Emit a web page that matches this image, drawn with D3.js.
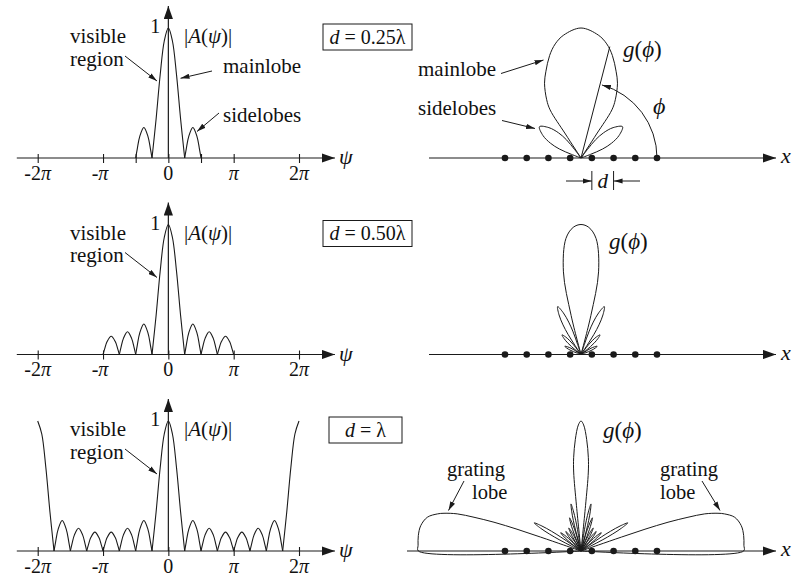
<!DOCTYPE html>
<html>
<head>
<meta charset="utf-8">
<script src="https://cdn.jsdelivr.net/npm/d3@7"></script>
<style>
  html, body { margin: 0; padding: 0; background: #fff; }
  svg text { font-family: "Liberation Serif", "DejaVu Serif", serif; fill: #111; }
</style>
</head>
<body>
<svg id="fig" width="800" height="575" font-family="Liberation Serif, DejaVu Serif, serif"></svg>
<script>
// ---- values ----
const spacingLabels = ['0.25', '0.50', ''];      // d = ...λ (last row is d = λ)
const visibleEdge = [0.5, 1, 2];                  // visible region |ψ| <= kd, units of π
const tickValues = [-2, -1, 0, 1, 2];
const tickLabels = ['-2π', '-π', '0', 'π', '2π'];

// |A(ψ)| lobes, right half (mirrored): [start, end, peak], ψ in units of π
const sideLobes = [
  [[0.25, 0.5, 0.235]],
  [[0.25, 0.5, 0.235], [0.5, 0.75, 0.175], [0.75, 1, 0.14]],
  [[0.25, 0.5, 0.235], [0.5, 0.75, 0.175], [0.75, 1, 0.145], [1, 1.25, 0.145], [1.25, 1.5, 0.175], [1.5, 1.75, 0.235]]
];
const gratingPeaks = [null, null, 2];
const mainHalfWidth = 0.25;
const mainProfile = [[0, 1], [0.25, 0.9], [0.5, 0.64], [0.75, 0.3], [1, 0]];
const sideProfile = [[0, 0], [0.1, 0.31], [0.25, 0.71], [0.5, 1], [0.75, 0.71], [0.9, 0.31], [1, 0]];

// g(φ) polar patterns: [φ degrees, gain]; right half, mirrored about 90°
const polarMain = [
  [[56.5, 0], [57, 0.22], [57.3, 0.44], [59.5, 0.52], [64, 0.64], [68, 0.72], [73, 0.825], [77.3, 0.9], [82, 0.955], [90, 1]],
  [[74.5, 0], [75.8, 0.31], [78, 0.65], [82.6, 0.9], [86.5, 0.98], [90, 1]],
  [[83, 0], [84.3, 0.35], [84.7, 0.61], [85.5, 0.72], [87.1, 0.86], [88.8, 0.97], [90, 1]]
];
// sidelobe petals: [centre φ, peak gain, half width in degrees]
const polarPetals = [
  [[37, 0.40, 16]],
  [[64, 0.41, 7.5], [46, 0.21, 7], [27, 0.14, 7]],
  [[78, 0.37, 3], [71, 0.27, 3.5], [62, 0.2, 4], [52, 0.19, 4.5], [42, 0.21, 4.5], [31, 0.42, 4]]
];
const petalProfile = [[-1, 0], [-1, 0.2], [-0.9, 0.45], [-0.7, 0.65], [-0.4, 0.85], [0, 1],
                      [0.4, 0.85], [0.7, 0.65], [0.9, 0.45], [1, 0.2], [1, 0]];
const gratingLobe = [[0, 0], [0, 1.251], [2, 1.254], [5.4, 1.257], [9, 1.248], [12.4, 1.21], [14.5, 1.14],
                     [15.4, 1.093], [16.7, 0.994], [17.5, 0.863], [18.3, 0.705], [18.8, 0.52], [19, 0.33], [19, 0.14], [19, 0]];
const polarGrating = [null, null, gratingLobe];
const elements = [-3.5, -2.5, -1.5, -0.5, 0.5, 1.5, 2.5, 3.5];
const phiMark = 75.5;

// ---- drawing ----
const ink = '#1a1a1a';
const serif = '"Liberation Serif", "DejaVu Serif", serif';
const rowY = [158, 354.5, 551];
const svg = d3.select('#fig');
const defs = svg.append('defs');

function addMarker(id, len, half) {
  defs.append('marker')
    .attr('id', id).attr('viewBox', `0 0 ${len} ${half * 2}`)
    .attr('markerWidth', len).attr('markerHeight', half * 2)
    .attr('markerUnits', 'userSpaceOnUse')
    .attr('refX', len).attr('refY', half).attr('orient', 'auto')
    .append('path').attr('d', `M0,0L${len},${half}L0,${half * 2}Z`).attr('fill', ink);
}
addMarker('axisHead', 13, 4.6);
addMarker('head', 9, 2.6);

function arrow(g, x1, y1, x2, y2, head) {
  return g.append('line').attr('x1', x1).attr('y1', y1).attr('x2', x2).attr('y2', y2)
    .attr('stroke', ink).attr('stroke-width', 1).attr('marker-end', `url(#${head || 'head'})`);
}

// parts starting with * are set in italics
function label(g, x, y, parts, size, anchor) {
  const t = g.append('text').attr('x', x).attr('y', y)
    .style('font-family', serif).style('font-size', size + 'px')
    .attr('text-anchor', anchor || 'start');
  parts.forEach(p => {
    const italic = p.startsWith('*');
    t.append('tspan').style('font-style', italic ? 'italic' : 'normal').text(italic ? p.slice(1) : p);
  });
  return t;
}

// one text element, one tspan per line: [x, y, string]
function lines(g, rows, size) {
  const t = g.append('text').style('font-family', serif).style('font-size', size + 'px');
  rows.forEach(([x, y, s]) => t.append('tspan').attr('x', x).attr('y', y).text(s));
  return t;
}

const psi = d3.scaleLinear().domain([-2, 2]).range([37.7, 299]);

function drawArrayFactor(i) {
  const axisY = rowY[i];
  const y = d3.scaleLinear().domain([0, 1]).range([axisY, axisY - 130]);
  const g = svg.append('g');

  arrow(g, psi(-2.32), axisY, psi(2.55), axisY, 'axisHead').attr('stroke-width', 1.2);
  arrow(g, psi(0), axisY, psi(0), axisY - 152, 'axisHead').attr('stroke-width', 1.2);

  const edge = visibleEdge[i];
  const ticks = Array.from(new Set(tickValues.concat([-edge, edge]))).sort(d3.ascending);
  const ag = g.append('g').attr('transform', `translate(0,${axisY})`)
    .call(d3.axisBottom(psi).tickValues(ticks).tickSize(5).tickFormat(() => ''));
  ag.select('.domain').remove();
  ag.selectAll('.tick line').attr('y1', -4).attr('stroke', ink).attr('stroke-width', 1.1);

  tickValues.forEach((v, k) => {
    const s = tickLabels[k];
    const parts = s.includes('π') ? [s.replace('π', ''), '*π'] : [s];
    label(g, psi(v) - (s === '-π' ? 3 : 0), axisY + 21.5, parts, 20, 'middle');
  });
  label(g, psi(2.55) + 4, axisY + 6, ['*ψ'], 22);

  const curve = d3.line().x(d => psi(d[0])).y(d => y(d[1])).curve(d3.curveCatmullRom.alpha(0.5));
  const lobes = [];
  lobes.push(mainProfile.map(([t, f]) => [-t * mainHalfWidth, f]).reverse()
    .concat(mainProfile.slice(1).map(([t, f]) => [t * mainHalfWidth, f])));
  sideLobes[i].forEach(([a, b, h]) => {
    const pts = sideProfile.map(([t, f]) => [a + t * (b - a), f * h]);
    lobes.push(pts, pts.map(([p, v]) => [-p, v]));
  });
  if (gratingPeaks[i] != null) {
    const c = gratingPeaks[i];
    const pts = mainProfile.map(([t, f]) => [c - t * mainHalfWidth, f]);
    lobes.push(pts, pts.map(([p, v]) => [-p, v]));
  }
  g.selectAll('path.lobe').data(lobes).join('path').attr('class', 'lobe')
    .attr('d', curve).attr('fill', 'none').attr('stroke', ink).attr('stroke-width', 1.1);

  lines(g, [[70, axisY - 114.7, 'visible'], [70, axisY - 92.5, 'region']], 21);
  arrow(g, 125, axisY - 102, 157, axisY - 77);
  label(g, psi(0) - 8, axisY - 125, ['1'], 20, 'end');
  label(g, 184, axisY - 114.7, ['|', '*A', '(', '*ψ', ')|'], 21);

  const boxX = [323, 323, 329], boxW = [89, 89, 73];
  g.append('rect').attr('x', boxX[i]).attr('y', axisY - 134).attr('width', boxW[i]).attr('height', 26)
    .attr('fill', 'none').attr('stroke', ink).attr('stroke-width', 1);
  const sp = spacingLabels[i];
  label(g, boxX[i] + boxW[i] / 2, axisY - 114.5, ['*d', sp ? ` = ${sp}λ` : ' = λ'], 20, 'middle');

  if (i === 0) {
    label(g, 223, axisY - 85, ['mainlobe'], 21);
    arrow(g, 212, axisY - 87, 180.5, axisY - 79.7);
    label(g, 223, axisY - 36, ['sidelobes'], 21);
    arrow(g, 219, axisY - 45, 197, axisY - 26.5);
  }
}

const originX = 581;
const gain = d3.scaleLinear().domain([0, 1]).range([0, 130]);
const ex = d3.scaleLinear().domain([-3.5, 3.5]).range([505, 657]);
const radial = d3.lineRadial()
  .angle(d => (90 - d[0]) * Math.PI / 180)
  .radius(d => gain(d[1]))
  .curve(d3.curveCatmullRom.alpha(0.5));
const mirror = pts => pts.map(([a, v]) => [180 - a, v]);
const gLabelPos = [[623, -101], [609, -106], [603, -113]];

function drawPattern(i) {
  const axisY = rowY[i];
  const g = svg.append('g');
  arrow(g, i === 2 ? 407 : 429, axisY, 776, axisY, 'axisHead').attr('stroke-width', 1.2);
  label(g, 781, axisY + 5, ['*x'], 22);

  const og = g.append('g').attr('transform', `translate(${originX},${axisY})`);
  const half = polarMain[i];
  const lobes = [half.concat(mirror(half.slice(0, -1).reverse()))];
  polarPetals[i].forEach(([c, pk, hw]) => {
    const pts = petalProfile.map(([o, f]) => [c + o * hw, f * pk]);
    lobes.push(pts, mirror(pts));
  });
  if (polarGrating[i]) lobes.push(polarGrating[i], mirror(polarGrating[i]));
  og.selectAll('path.lobe').data(lobes).join('path').attr('class', 'lobe')
    .attr('d', radial).attr('fill', 'none').attr('stroke', ink).attr('stroke-width', 1);

  g.selectAll('circle').data(elements).join('circle')
    .attr('cx', d => ex(d)).attr('cy', axisY).attr('r', 3.3).attr('fill', ink);

  label(g, gLabelPos[i][0], axisY + gLabelPos[i][1], ['*g', '(', '*ϕ', ')'], 23);

  if (i === 0) {
    const a = phiMark * Math.PI / 180;
    og.append('line').attr('x1', 0).attr('y1', 0)
      .attr('x2', gain(0.885) * Math.cos(a)).attr('y2', -gain(0.885) * Math.sin(a))
      .attr('stroke', ink).attr('stroke-width', 1);
    const arcR = ex(3.5) - originX;
    const p = d3.path();
    p.arc(0, 0, arcR, 0, -74 * Math.PI / 180, true);
    og.append('path').attr('d', p.toString()).attr('fill', 'none').attr('stroke', ink)
      .attr('stroke-width', 1).attr('marker-end', 'url(#head)');
    label(g, 653, axisY - 44, ['*ϕ'], 24);

    label(g, 418, axisY - 82, ['mainlobe'], 21);
    arrow(g, 501, axisY - 84.5, 543.5, axisY - 98);
    label(g, 418, axisY - 43, ['sidelobes'], 21);
    arrow(g, 502, axisY - 37.5, 535, axisY - 29.5);

    [0.5, 1.5].forEach(e => g.append('line')
      .attr('x1', ex(e)).attr('x2', ex(e)).attr('y1', axisY + 13).attr('y2', axisY + 32)
      .attr('stroke', ink).attr('stroke-width', 1));
    arrow(g, 566, axisY + 23, ex(0.5), axisY + 23);
    arrow(g, 640, axisY + 23, ex(1.5), axisY + 23);
    label(g, (ex(0.5) + ex(1.5)) / 2, axisY + 30, ['*d'], 21, 'middle');
  }

  if (i === 2) {
    lines(g, [[447, axisY - 75, 'grating'], [472, axisY - 52, 'lobe']], 20.5);
    arrow(g, 464, axisY - 70, 448.5, axisY - 40.5);
    lines(g, [[660, axisY - 75, 'grating'], [660, axisY - 52, 'lobe']], 20.5);
    arrow(g, 702, axisY - 70, 720, axisY - 40.5);
  }
}

[0, 1, 2].forEach(i => { drawArrayFactor(i); drawPattern(i); });
</script>
</body>
</html>
